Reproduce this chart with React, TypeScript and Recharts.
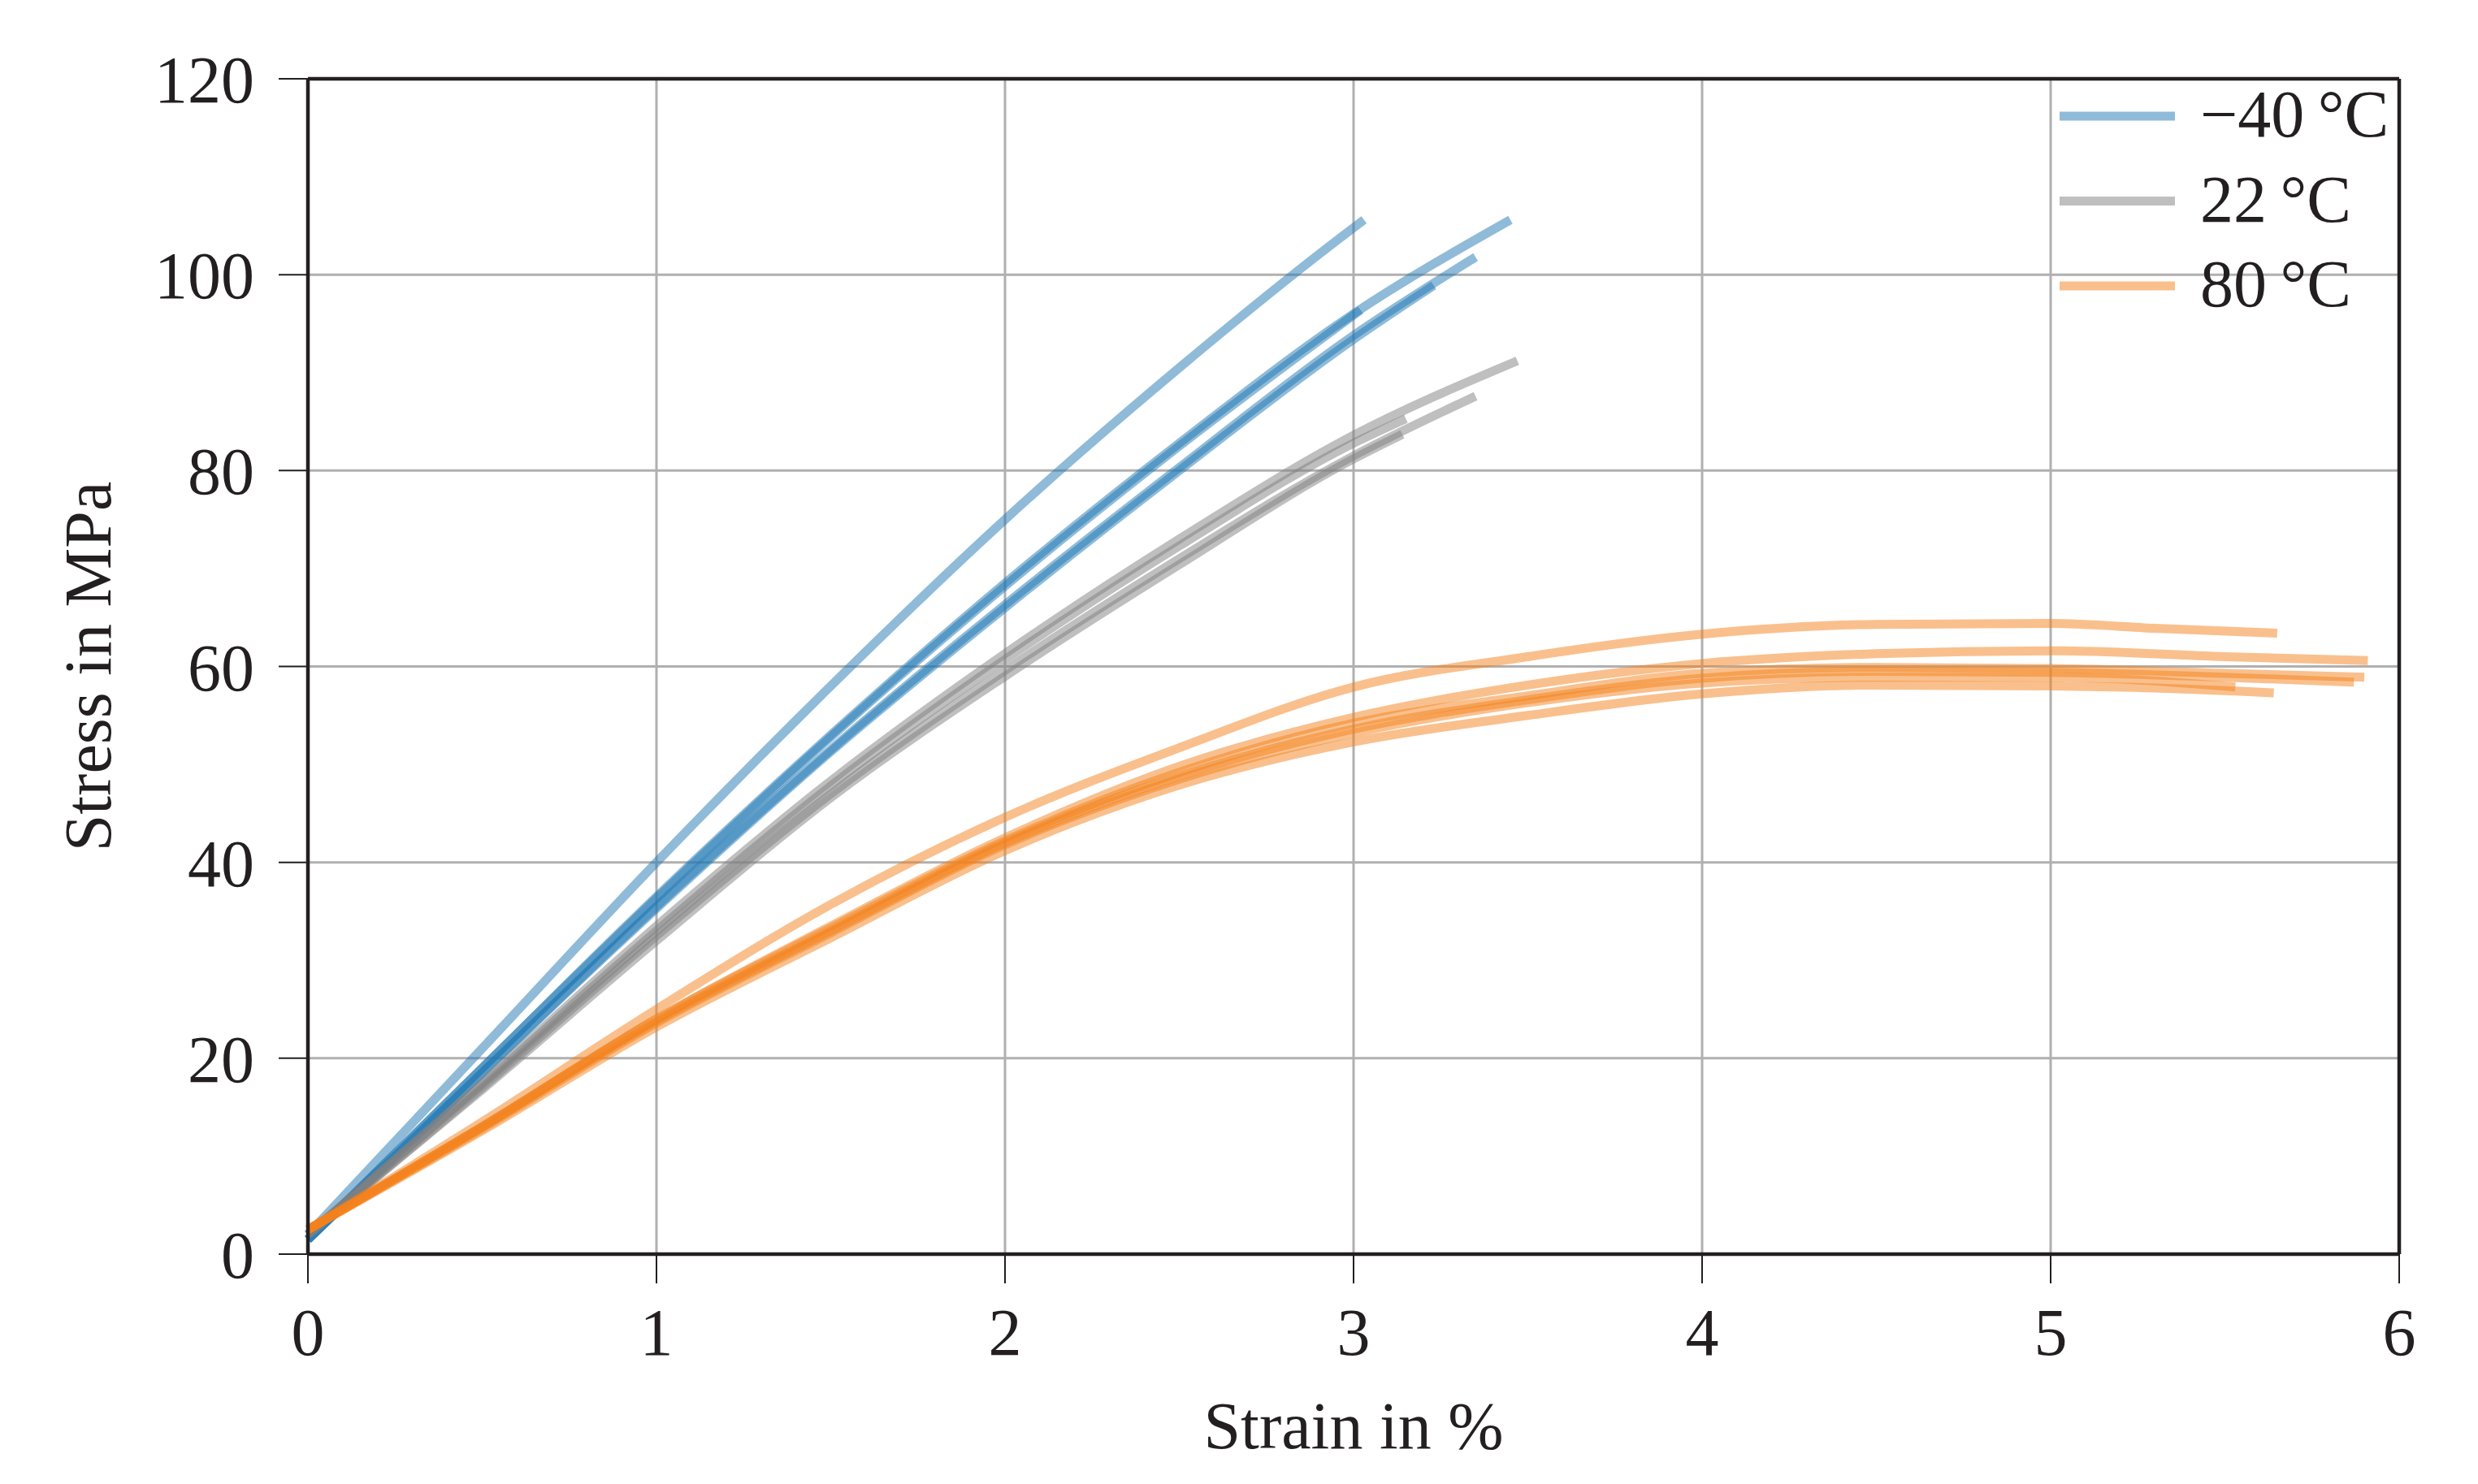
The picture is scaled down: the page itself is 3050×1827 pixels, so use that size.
import { LineChart, Line, XAxis, YAxis, CartesianGrid, ReferenceLine, Legend } from 'recharts';

const FONT = "'Liberation Serif', 'DejaVu Serif', serif";
const INK = '#231f20';

const xTicks = [0, 1, 2, 3, 4, 5, 6];
const yTicks = [0, 20, 40, 60, 80, 100, 120];

// -40 °C specimens, [strain in %, stress in MPa]
const cold1 = [[0, 2], [0.5, 21], [1, 40], [1.5, 58], [2, 75], [2.5, 90.5], [3, 104.8], [3.03, 105.6]];
const cold2 = [[0, 1.5], [0.5, 19], [1, 36.5], [1.5, 53], [2, 68.5], [2.5, 82.8], [3, 96], [3.45, 105.6]];
const cold3 = [[0, 1.5], [0.5, 19], [1, 36.3], [1.5, 52.8], [2, 68.2], [2.5, 82.5], [3.02, 96.4]];
const cold4 = [[0, 1.5], [0.5, 18.5], [1, 35.5], [1.5, 51.5], [2, 66.3], [2.5, 80.3], [3, 93.8], [3.35, 101.8]];
const cold5 = [[0, 1.5], [0.5, 18.5], [1, 35.3], [1.5, 51.3], [2, 66], [2.5, 80], [3, 93.4], [3.23, 98.9]];

// 22 °C specimens
const room1 = [[0, 2], [0.5, 17.5], [1, 33.5], [1.5, 48.3], [2, 61.3], [2.5, 73], [3, 83.6], [3.47, 91.2]];
const room2 = [[0, 2], [0.5, 17], [1, 32.5], [1.5, 47], [2, 59.6], [2.5, 71], [3, 81.5], [3.35, 87.6]];
const room3 = [[0, 2], [0.5, 17.3], [1, 33], [1.5, 47.8], [2, 60.7], [2.5, 72.3], [3, 82.8], [3.15, 85.3]];
const room4 = [[0, 2], [0.5, 16.8], [1, 32], [1.5, 46.6], [2, 59], [2.5, 70.4], [3, 81.2], [3.14, 83.7]];

// 80 °C specimens
const hot1 = [[0, 2.5], [0.5, 13.5], [1, 25], [1.5, 35.7], [2, 44.6], [2.5, 51.7], [3, 57.9], [3.5, 61], [4, 63.3], [4.5, 64.3], [5, 64.4], [5.3, 63.9], [5.65, 63.4]];
const hot2 = [[0, 2.5], [0.5, 13], [1, 24], [1.5, 33.5], [2, 42.5], [2.5, 49.8], [3, 54.8], [3.5, 58.1], [4, 60.3], [4.5, 61.3], [5, 61.6], [5.5, 61], [5.91, 60.6]];
const hot3 = [[0, 2.5], [0.5, 13], [1, 24], [1.5, 33.3], [2, 42.2], [2.5, 49.2], [3, 54.2], [3.5, 57], [4, 59.3], [4.5, 59.9], [5, 59.8], [5.5, 59.3], [5.9, 58.9]];
const hot4 = [[0, 2.5], [0.5, 13], [1, 23.8], [1.5, 33], [2, 42], [2.5, 48.8], [3, 53.6], [3.5, 56.6], [4, 58.8], [4.5, 59.5], [5, 59.4], [5.5, 58.9], [5.87, 58.4]];
const hot5 = [[0, 2.5], [0.5, 12.8], [1, 23.6], [1.5, 32.8], [2, 41.8], [2.5, 48.5], [3, 53.2], [3.5, 56.3], [4, 58.3], [4.5, 58.9], [5, 58.9], [5.53, 57.9]];
const hot6 = [[0, 2.5], [0.5, 12.6], [1, 23.2], [1.5, 32.3], [2, 41.2], [2.5, 47.9], [3, 52.3], [3.5, 55], [4, 57.2], [4.5, 58.1], [5, 58], [5.3, 57.8], [5.64, 57.3]];

const groupNames = ['\u221240\u2009°C', '22\u2009°C', '80\u2009°C'];
const groupColors = ['#1f77b4', '#7f7f7f', '#f3811c'];
const groupCurves = [
  [cold1, cold2, cold3, cold4, cold5],
  [room1, room2, room3, room4],
  [hot1, hot2, hot3, hot4, hot5, hot6],
];

const toPoints = (pts: number[][]) => pts.map(([x, y]) => ({ x, y }));

function LegendBox() {
  return (
    <svg width={540} height={300} style={{ overflow: 'visible' }}>
      {groupNames.map((name, i) => (
        <g key={name}>
          <line x1={15} x2={157} y1={43 + i * 104.5} y2={43 + i * 104.5}
            stroke={groupColors[i]} strokeOpacity={0.5} strokeWidth={11} />
          <text x={188} y={68 + i * 104.5} fontSize={82} fontFamily={FONT} fill={INK}>{name}</text>
        </g>
      ))}
    </svg>
  );
}

export default function App() {
  return (
    <div style={{ position: 'absolute', left: 0, top: 0, background: '#fff' }}>
      <LineChart width={3050} height={1827} margin={{ top: 97, right: 97, bottom: 0, left: 0 }}>
        <CartesianGrid stroke="#b0b0b0" strokeWidth={3} />
        <XAxis
          type="number"
          dataKey="x"
          domain={[0, 6]}
          ticks={xTicks}
          height={283}
          tickSize={36}
          tickMargin={30}
          axisLine={{ stroke: INK, strokeWidth: 4.5 }}
          tickLine={{ stroke: INK, strokeWidth: 2 }}
          tick={{ fontSize: 82, fill: INK, fontFamily: FONT }}
          label={{ value: 'Strain in %', position: 'insideBottom', offset: 44, fontSize: 82, fill: INK, fontFamily: FONT }}
        />
        <YAxis
          type="number"
          dataKey="y"
          domain={[0, 120]}
          ticks={yTicks}
          width={379}
          tickSize={36}
          tickMargin={30}
          axisLine={{ stroke: INK, strokeWidth: 4.5 }}
          tickLine={{ stroke: INK, strokeWidth: 2 }}
          tick={{ fontSize: 82, fill: INK, fontFamily: FONT }}
          label={{ value: 'Stress in MPa', angle: -90, position: 'insideLeft', offset: 107, fontSize: 82, fill: INK, fontFamily: FONT, style: { textAnchor: 'middle' } }}
        />
        {groupCurves.map((curves, g) =>
          curves.map((pts, k) => (
            <Line
              key={`${g}-${k}`}
              data={toPoints(pts)}
              dataKey="y"
              name={`${groupNames[g]} #${k + 1}`}
              type="monotone"
              stroke={groupColors[g]}
              strokeOpacity={0.5}
              strokeWidth={11}
              dot={false}
              activeDot={false}
              legendType="none"
              isAnimationActive={false}
            />
          ))
        )}
        <ReferenceLine y={120} stroke={INK} strokeWidth={4.5} />
        <ReferenceLine x={6} stroke={INK} strokeWidth={4.5} />
        <Legend
          layout="horizontal"
          verticalAlign="middle"
          align="center"
          content={() => <LegendBox />}
          wrapperStyle={{ left: 2520, top: 100, width: 540, height: 300 }}
        />
      </LineChart>
    </div>
  );
}
